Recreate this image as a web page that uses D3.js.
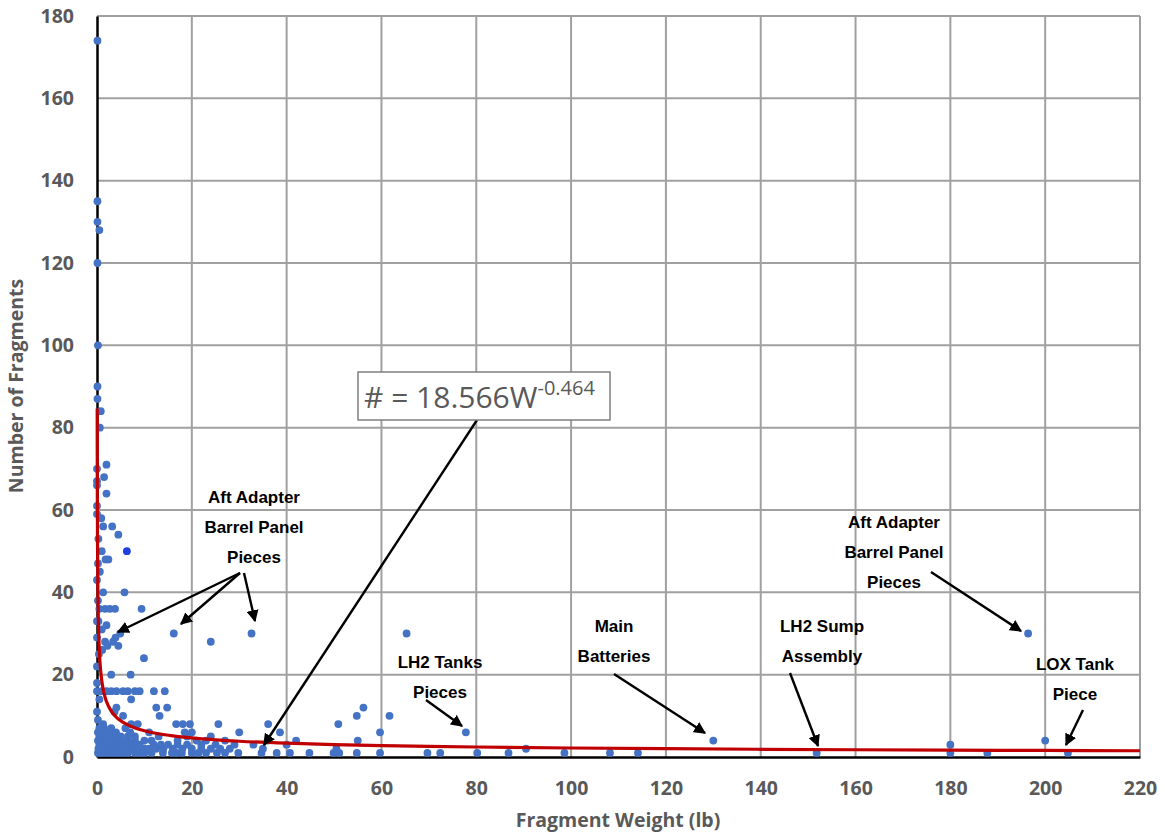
<!DOCTYPE html>
<html><head><meta charset="utf-8">
<script src="https://cdn.jsdelivr.net/npm/d3@7/dist/d3.min.js"></script>
<style>body{margin:0;background:#fff}svg{display:block}</style>
</head><body>
<svg id="c" width="1165" height="839"></svg>
<script>
// ---- data ----
const xTicks = [0,20,40,60,80,100,120,140,160,180,200,220];
const yTicks = [0,20,40,60,80,100,120,140,160,180];
// scattered fragments (weight lb, number)
const pointsX = [0.1,0.1,0.1,0.5,0.1,0.2,0.1,0.1,0.8,0.6,2,0,1.5,0,0,2,0,0,1.3,3.2,4.5,0.3,1,1.8,2.4,0.6,0,1.3,5.8,0.2,1.7,2.7,3.8,9.4,0,2,4.9,0,1.7,3.4,4.5,16.2,24,32.6,65.3,0.4,9.9,0,3,7.1,0,0,3,4.1,5.5,6.5,8,9,12,14.3,2,1,7.2,0.5,4.1,12.5,14.8,0,3.7,13.2,5.5,0.2,1.3,7.2,8.6,16.7,18.1,19.6,25.6,36.1,18.5,30,38.6,50.9,54.8,56.2,61.7,59.7,77.8,55,130,180,200,196.4,90.5,0.3,0.5,1,0.2,1.1,2.2,3.9,0.9];
const pointsY = [174,135,130,128,120,100,90,87,84,80,71,70,68,67,66,64,61,59,56,56,54,53,50,48,48,45,43,40,40,38,36,36,36,36,33,32,30,29,28,28,27,30,28,30,30,25,24,22,20,20,18,16,16,16,16,16,16,16,16,16,16,16,14,14,12,12,12,11,11,10,10,9,8,8,8,8,8,8,8,8,6,6,6,8,10,12,10,6,6,4,4,3,4,30,2,33,36,31,47,26,27,29,58];
// low-count fragments, by count
const low1 = [0.2,0.8,1.5,2.5,3.5,4.5,5.5,6.5,8,9,10,11.5,13.9,15.8,16.8,17.9,20,21.4,23,25.3,27,29.8,34.7,37.9,40.7,44.8,49.9,51.1,54.8,59.7,69.7,72.4,80.2,86.8,98.6,108.2,114.1,151.8,180,187.8,204.8];
const low2 = [0.3,1,2,3,4,5,6,7,8,9,10,11,12.5,14,16,18,20,22,24,26,28,35,50.5];
const low3 = [0.5,1.5,2.5,3.5,4.5,5.5,6,7.5,9,12,13.5,15,17,19,22,25,29,33,40];
const low4 = [0.2,1,2,3,4,5,6.5,8,10,11.5,17,21,23,27,36,42];
const low5 = [0.5,1.5,2,3.5,5,6.5,8,13,19,24];
const low6 = [0.2,1,2.5,4,7,11,20];
const low7 = [0.5,1.5,3,6];
const highlightX = [6.3], highlightY = [50];
// power-law fit  # = a * W^b
const fitA = 18.566, fitB = -0.464;
const fitW = [0.038,0.05,0.07,0.1,0.15,0.2,0.3,0.5,0.75,1,1.5,2,3,4,5,6,8,10,13,16,20,25,30,40,50,60,70,80,100,120,140,160,180,200,220];

// ---- layout ----
const svg = d3.select("#c");
const L = 97, R = 1140, T = 16, B = 757;
const x = d3.scaleLinear().domain([0,220]).range([L,R]);
const y = d3.scaleLinear().domain([0,180]).range([B,T]);
const gray = "#595959";
const fontAxis = "'Open Sans',Arial,sans-serif";

// grid
const g = svg.append("g");
g.selectAll(".vg").data(xTicks.slice(1)).join("line")
  .attr("x1",d=>x(d)).attr("x2",d=>x(d)).attr("y1",T).attr("y2",B)
  .attr("stroke","#a0a0a0").attr("stroke-width",2);
g.selectAll(".hg").data(yTicks.slice(1)).join("line")
  .attr("x1",L).attr("x2",R).attr("y1",d=>y(d)).attr("y2",d=>y(d))
  .attr("stroke","#a0a0a0").attr("stroke-width",2);

// axes
const xAxis = svg.append("g").attr("transform",`translate(0,${B})`)
  .call(d3.axisBottom(x).tickValues(xTicks).tickSize(0).tickPadding(24));
const yAxis = svg.append("g").attr("transform",`translate(${L},0)`)
  .call(d3.axisLeft(y).tickValues(yTicks).tickSize(0).tickPadding(23));
[xAxis,yAxis].forEach(a=>{
  a.select(".domain").attr("stroke","#000").attr("stroke-width",2.5);
  a.selectAll("text").attr("font-family",fontAxis).attr("font-weight","bold")
   .attr("font-size",19.5).attr("fill",gray);
});

// points
const pts = pointsX.map((v,i)=>[v,pointsY[i]]);
[[low1,1],[low2,2],[low3,3],[low4,4],[low5,5],[low6,6],[low7,7]].forEach(([arr,n])=>arr.forEach(v=>pts.push([v,n])));
svg.append("g").selectAll("circle").data(pts).join("circle")
  .attr("cx",d=>x(d[0])).attr("cy",d=>y(d[1])).attr("r",3.9).attr("fill","#4472C4");
svg.append("g").selectAll("circle").data(highlightX.map((v,i)=>[v,highlightY[i]])).join("circle")
  .attr("cx",d=>x(d[0])).attr("cy",d=>y(d[1])).attr("r",3.9).attr("fill","#1f3fe0");

// fit line
const fit = fitW.map(w=>[w, fitA*Math.pow(w,fitB)]);
svg.append("path").datum(fit)
  .attr("d",d3.line().x(d=>x(d[0])).y(d=>y(d[1])).curve(d3.curveMonotoneX))
  .attr("fill","none").attr("stroke","#C00000").attr("stroke-width",3.2);

// arrow marker
svg.append("defs").append("marker").attr("id","ah").attr("viewBox","0 0 10 10")
  .attr("refX",9).attr("refY",5).attr("markerWidth",5).attr("markerHeight",5)
  .attr("orient","auto").append("path").attr("d","M0,0 L10,5 L0,10 z").attr("fill","#000");

// annotation labels
const labels = [
  {lines:["Aft Adapter","Barrel Panel","Pieces"], cx:254, cy:497},
  {lines:["LH2 Tanks","Pieces"], cx:440, cy:662},
  {lines:["Main","Batteries"], cx:614, cy:626},
  {lines:["LH2 Sump","Assembly"], cx:822, cy:626},
  {lines:["Aft Adapter","Barrel Panel","Pieces"], cx:894, cy:522},
  {lines:["LOX Tank","Piece"], cx:1075, cy:664}
];
labels.forEach(lb=>{
  const t = svg.append("text").attr("font-family","Arial,'Liberation Sans',sans-serif")
    .attr("font-weight","bold").attr("font-size",17).attr("fill","#000").attr("text-anchor","middle");
  lb.lines.forEach((s,i)=>t.append("tspan").attr("x",lb.cx).attr("y",lb.cy+i*30).attr("dy","0.35em").text(s));
});
const arrows = [
  [240,573,118,632],[240,573,181,624],[244,573,255,621],
  [477,420,264,745],[426,700,462,726],[614,674,705,733],
  [790,673,818,746],[931,572,1021,631],[1083,710,1066,745]
];
svg.append("g").selectAll("line").data(arrows).join("line")
  .attr("x1",d=>d[0]).attr("y1",d=>d[1]).attr("x2",d=>d[2]).attr("y2",d=>d[3])
  .attr("stroke","#000").attr("stroke-width",2.4).attr("marker-end","url(#ah)");

// equation box
svg.append("rect").attr("x",358).attr("y",372).attr("width",252).attr("height",48)
  .attr("fill","#fff").attr("stroke","#7f7f7f").attr("stroke-width",1.5);
const eq = svg.append("text").attr("x",364).attr("y",408).attr("font-family",fontAxis)
  .attr("font-size",30).attr("fill",gray);
eq.append("tspan").text("# = 18.566W");
eq.append("tspan").attr("font-size",20).attr("dy",-13).text("-0.464");

// axis titles
svg.append("text").attr("x",618).attr("y",827).attr("text-anchor","middle")
  .attr("font-family",fontAxis).attr("font-weight","bold").attr("font-size",19.5).attr("fill",gray)
  .text("Fragment Weight (lb)");
svg.append("text").attr("transform","translate(23,386) rotate(-90)").attr("text-anchor","middle")
  .attr("font-family",fontAxis).attr("font-weight","bold").attr("font-size",19.5).attr("fill",gray)
  .text("Number of Fragments");
</script>
</body></html>
